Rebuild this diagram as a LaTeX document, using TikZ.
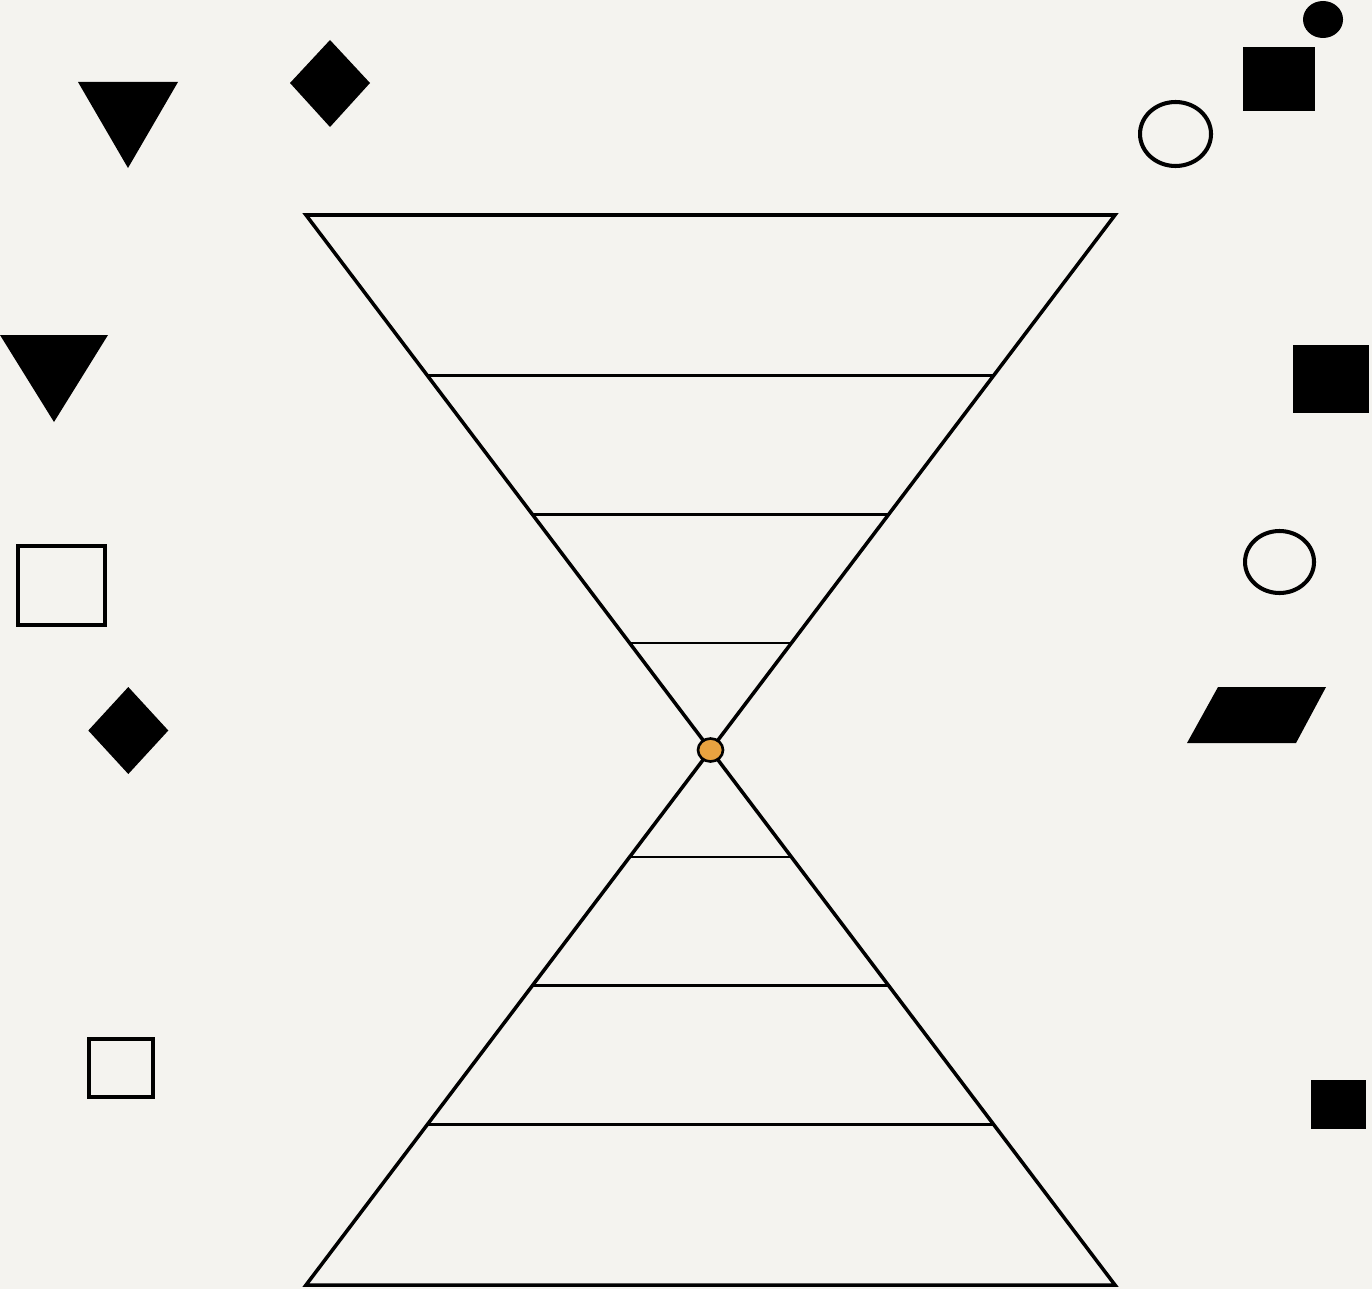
\documentclass[tikz,border=0pt]{standalone}
\usepackage{xcolor}
\usepackage{tikz}
\usetikzlibrary{calc}
\definecolor{papel}{RGB}{244, 243, 239}
\definecolor{laranja}{RGB}{233, 163, 64}

\begin{document}
\begin{tikzpicture}[line join=miter]
  % fundo
  \fill[papel] (0,0) rectangle (13.72,12.89);
  \useasboundingbox (0,0) rectangle (13.72,12.89);
  % ampulheta
  \coordinate (tl) at (3.06,10.74);
  \coordinate (tr) at (11.15,10.74);
  \coordinate (bl) at (3.06,0.04);
  \coordinate (br) at (11.15,0.04);
  \coordinate (meio) at (7.105,5.39);
  \draw[line width=1pt] (tl) -- (tr) -- (meio) -- cycle;
  \draw[line width=1pt] (bl) -- (br) -- (meio) -- cycle;
  % faixas
  \foreach \f in {0.2,0.44,0.7}{
    \draw[line width=0.65pt] ($(meio)!\f!(tl)$) -- ($(meio)!\f!(tr)$);
    \draw[line width=0.65pt] ($(meio)!\f!(bl)$) -- ($(meio)!\f!(br)$);
  }
  \draw[line width=0.75pt, fill=laranja] (meio) ellipse [x radius=0.125, y radius=0.115];
  % formas da esquerda
  \fill (0.78,12.07) -- (1.78,12.07) -- (1.28,11.21) -- cycle;
  \fill (3.30,12.49) -- (3.70,12.06) -- (3.30,11.62) -- (2.90,12.06) -- cycle;
  \fill (0.00,9.54) -- (1.08,9.54) -- (0.54,8.67) -- cycle;
  \draw[line width=1.25pt] (0.18,7.43) rectangle (1.05,6.64);
  \fill (1.283,6.02) -- (1.683,5.585) -- (1.283,5.15) -- (0.883,5.585) -- cycle;
  \draw[line width=1.25pt] (0.89,2.50) rectangle (1.53,1.92);
  % formas da direita
  \fill (13.23,12.695) ellipse [x radius=0.20, y radius=0.185];
  \fill (12.43,12.42) rectangle (13.15,11.78);
  \draw[line width=1.15pt] (11.755,11.55) ellipse [x radius=0.355, y radius=0.32];
  \fill (12.93,9.44) rectangle (13.69,8.76);
  \draw[line width=1.15pt] (12.795,7.27) ellipse [x radius=0.345, y radius=0.31];
  \fill (11.87,5.46) -- (12.96,5.46) -- (13.26,6.02) -- (12.18,6.02) -- cycle;
  \fill (13.11,2.09) rectangle (13.66,1.60);
\end{tikzpicture}
\end{document}
